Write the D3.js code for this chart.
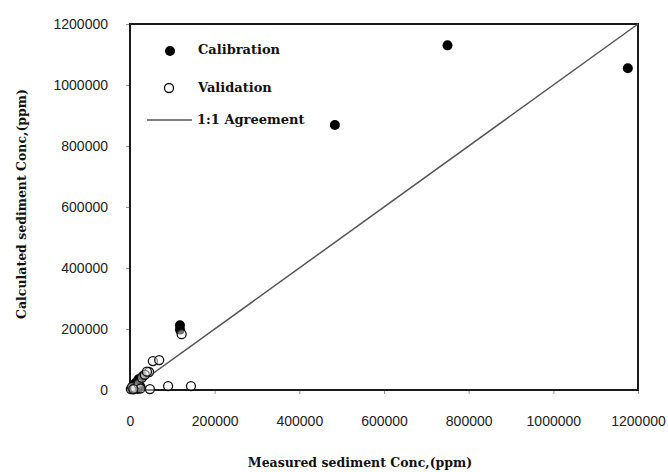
<!DOCTYPE html>
<html>
<head>
<meta charset="utf-8">
<script src="https://cdn.jsdelivr.net/npm/d3@7"></script>
<style>
  body { margin: 0; background: #fff; }
  svg { display: block; }
</style>
</head>
<body>
<div id="chart"></div>
<script>
// measured vs calculated sediment concentration (ppm)
var calibX = [750000, 1176000, 484000, 118000, 118000, 5000, 10000, 15000, 20000, 25000, 30000, 8000, 18000, 12000];
var calibY = [1130000, 1055000, 869000, 212000, 198000, 5000, 15000, 25000, 35000, 10000, 45000, 2000, 3000, 20000];

var validX = [122000, 54000, 69000, 90000, 144000, 45000, 2000, 5000, 12000, 20000, 28000, 35000, 40000, 25000, 47000, 8000];
var validY = [183000, 95000, 98000, 13000, 13000, 59000, 3000, 10000, 6000, 20000, 40000, 50000, 60000, 5000, 3000, 3000];

var agreeLine = [0, 1200000];
var tickVals = [0, 200000, 400000, 600000, 800000, 1000000, 1200000];

var W = 668, H = 472;
var plotLeft = 130, plotRight = 638, plotTop = 24, plotBottom = 390;

var svg = d3.select("#chart").append("svg")
  .attr("width", W).attr("height", H);

var x = d3.scaleLinear().domain([0, 1200000]).range([plotLeft, plotRight]);
var y = d3.scaleLinear().domain([0, 1200000]).range([plotBottom, plotTop]);

// axes
var xAxis = svg.append("g")
  .attr("transform", "translate(0," + plotBottom + ")")
  .call(d3.axisBottom(x).tickValues(tickVals).tickFormat(d3.format("d")).tickSize(4).tickPadding(22));
var yAxis = svg.append("g")
  .attr("transform", "translate(" + plotLeft + ",0)")
  .call(d3.axisLeft(y).tickValues(tickVals).tickFormat(d3.format("d")).tickSize(4).tickPadding(18));

[xAxis, yAxis].forEach(function(a) {
  a.select(".domain").remove();
  a.selectAll(".tick line").attr("stroke", "#999");
  a.selectAll("text")
    .attr("font-family", "Liberation Sans, Arial, sans-serif")
    .attr("font-size", "14px")
    .attr("fill", "#222");
});

// frame
svg.append("rect")
  .attr("x", plotLeft).attr("y", plotTop)
  .attr("width", plotRight - plotLeft).attr("height", plotBottom - plotTop)
  .attr("fill", "none").attr("stroke", "#1a1a1a").attr("stroke-width", 2);

// 1:1 line
svg.append("line")
  .attr("x1", x(agreeLine[0])).attr("y1", y(agreeLine[0]))
  .attr("x2", x(agreeLine[1])).attr("y2", y(agreeLine[1]))
  .attr("stroke", "#555").attr("stroke-width", 1.5);

// calibration (filled)
svg.selectAll(".calib")
  .data(calibX)
  .enter()
  .append("circle")
    .attr("class", "calib")
    .attr("cx", function(d) { return x(d); })
    .attr("cy", function(d, i) { return y(calibY[i]); })
    .attr("r", 5)
    .attr("fill", "#000");

// validation (open) drawn on top, see-through so the cluster stays dark
svg.selectAll(".valid")
  .data(validX)
  .enter()
  .append("circle")
    .attr("class", "valid")
    .attr("cx", function(d) { return x(d); })
    .attr("cy", function(d, i) { return y(validY[i]); })
    .attr("r", 4.5)
    .attr("fill", "#fff").attr("fill-opacity", 0.45)
    .attr("stroke", "#111").attr("stroke-width", 1.3);

// legend
var lg = svg.append("g")
  .attr("font-family", "DejaVu Serif, serif")
  .attr("font-weight", "bold")
  .attr("font-size", "13px")
  .attr("fill", "#111");
lg.append("circle").attr("cx", 170).attr("cy", 51).attr("r", 5).attr("fill", "#000");
lg.append("text").attr("x", 198).attr("y", 54).text("Calibration");
lg.append("circle").attr("cx", 169).attr("cy", 88).attr("r", 4.5)
  .attr("fill", "#fff").attr("stroke", "#111").attr("stroke-width", 1.3);
lg.append("text").attr("x", 198).attr("y", 92).text("Validation");
lg.append("line").attr("x1", 147).attr("x2", 192).attr("y1", 120).attr("y2", 120)
  .attr("stroke", "#555").attr("stroke-width", 1.5);
lg.append("text").attr("x", 197).attr("y", 124).text("1:1 Agreement");

// axis titles
svg.append("text")
  .attr("x", 360).attr("y", 467)
  .attr("text-anchor", "middle")
  .attr("font-family", "DejaVu Serif, serif")
  .attr("font-weight", "bold")
  .attr("font-size", "12.5px")
  .attr("fill", "#111")
  .text("Measured sediment Conc,(ppm)");

svg.append("text")
  .attr("transform", "translate(26,204) rotate(-90)")
  .attr("text-anchor", "middle")
  .attr("font-family", "DejaVu Serif, serif")
  .attr("font-weight", "bold")
  .attr("font-size", "12.5px")
  .attr("fill", "#111")
  .text("Calculated sediment Conc,(ppm)");
</script>
</body>
</html>
